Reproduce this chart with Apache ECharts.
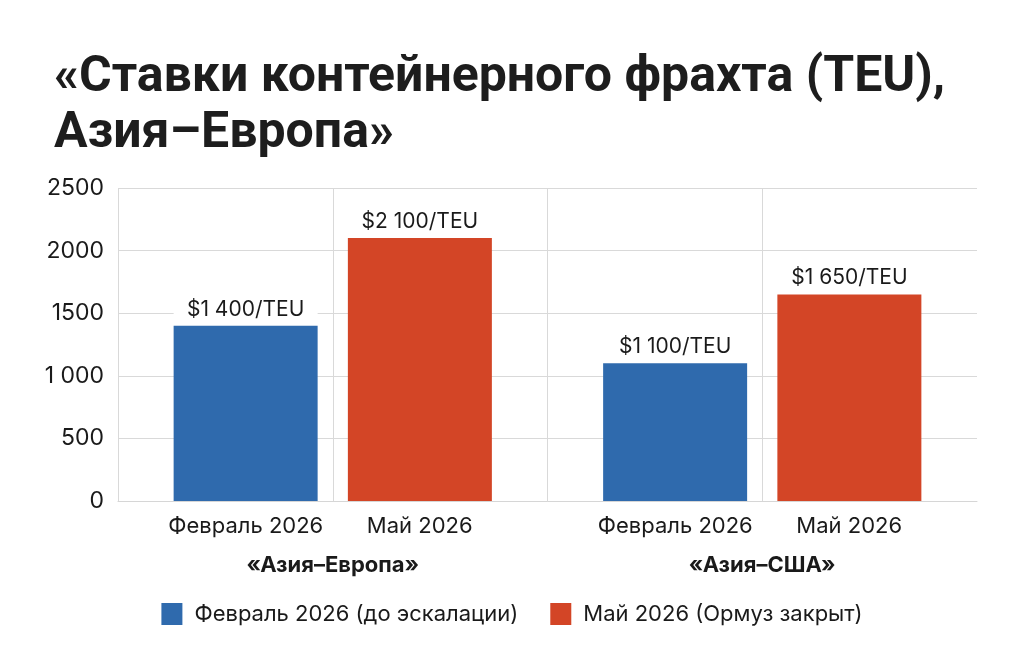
<!DOCTYPE html>
<html lang="ru">
<head>
  <meta charset="utf-8">
  <title>Ставки контейнерного фрахта</title>
  <script src="https://cdn.jsdelivr.net/npm/echarts@6/dist/echarts.min.js"></script>
  <style>
    html, body { margin: 0; padding: 0; background: #fff; }
    #main { width: 1024px; height: 657px; }
  </style>
</head>
<body>
<div id="main"></div>
<script type="text/javascript">
// данные
var routes = ['Азия–Европа', 'Азия–США'];
var periods = ['Февраль 2026', 'Май 2026'];
var seriesNames = ['Февраль 2026 (до эскалации)', 'Май 2026 (Ормуз закрыт)'];
var febValues = [1400, 1100];
var mayValues = [2100, 1650];
var yTickLabels = ['0', '500', '1 000', '1500', '2000', '2500'];

var BLUE = '#2f6aad';
var RED = '#d34526';
var FONT = 'Inter, Roboto, sans-serif';

function money(v) {
  var s = String(v);
  if (s.length > 3) s = s.slice(0, s.length - 3) + ' ' + s.slice(-3);
  return '$' + s + '/TEU';
}

var valueLabel = {
  show: true,
  position: 'top',
  distance: 6,
  fontFamily: FONT,
  fontSize: 21,
  color: '#1a1a1a',
  backgroundColor: '#fff',
  width: 144,
  align: 'center',
  padding: [2, 0, 0, 0],
  formatter: function (p) { return money(p.value); }
};

var myChart = echarts.init(document.getElementById('main'));

var option = {
  backgroundColor: '#fff',
  animation: false,
  title: {
    text: '«Ставки контейнерного фрахта (TEU),\nАзия–Европа»',
    left: 49,
    top: 45,
    textStyle: {
      fontFamily: 'Roboto, sans-serif',
      fontWeight: 'bold',
      fontSize: 50,
      lineHeight: 56,
      color: '#1d1d1d'
    }
  },
  legend: {
    data: seriesNames,
    left: 'center',
    top: 598,
    itemWidth: 21,
    itemHeight: 22,
    itemGap: 32,
    icon: 'rect',
    textStyle: { fontFamily: FONT, fontSize: 22, color: '#1a1a1a', padding: [0, 0, 0, 7] }
  },
  grid: { left: 118, right: 47, top: 188, bottom: 156 },
  xAxis: [{
    type: 'category',
    data: routes,
    axisLine: { lineStyle: { color: '#d6d6d6' } },
    axisTick: { show: false },
    splitLine: { show: false },
    axisLabel: {
      margin: 6,
      formatter: function (v) {
        return '{m|' + periods[0] + '}{m|' + periods[1] + '}\n{g|«' + v + '»}';
      },
      rich: {
        m: { width: 174, align: 'center', fontFamily: FONT, fontSize: 22, lineHeight: 38, color: '#1a1a1a' },
        g: { align: 'center', fontFamily: FONT, fontSize: 22, fontWeight: 'bold', lineHeight: 40, color: '#1a1a1a' }
      }
    }
  }, {
    // только вертикальные линии сетки
    type: 'value',
    position: 'bottom',
    min: 0,
    max: 4,
    interval: 1,
    axisLine: { show: false },
    axisTick: { show: false },
    axisLabel: { show: false },
    splitLine: {
      show: true,
      showMinLine: true,
      showMaxLine: false,
      lineStyle: { color: '#d9d9d9' }
    }
  }],
  yAxis: {
    type: 'value',
    min: 0,
    max: 2500,
    interval: 500,
    axisLine: { show: false },
    axisTick: { show: false },
    splitLine: { lineStyle: { color: '#d9d9d9' } },
    axisLabel: {
      margin: 14,
      fontFamily: FONT,
      fontSize: 23,
      color: '#1a1a1a',
      formatter: function (v) { return yTickLabels[v / 500]; }
    }
  },
  series: [{
    name: seriesNames[0],
    type: 'bar',
    data: febValues,
    barWidth: 144,
    barGap: '21%',
    itemStyle: { color: BLUE },
    label: valueLabel
  }, {
    name: seriesNames[1],
    type: 'bar',
    data: mayValues,
    barWidth: 144,
    barGap: '21%',
    itemStyle: { color: RED },
    label: valueLabel
  }]
};

if (option && typeof option === "object") {
  myChart.setOption(option, true);
}
</script>
</body>
</html>
